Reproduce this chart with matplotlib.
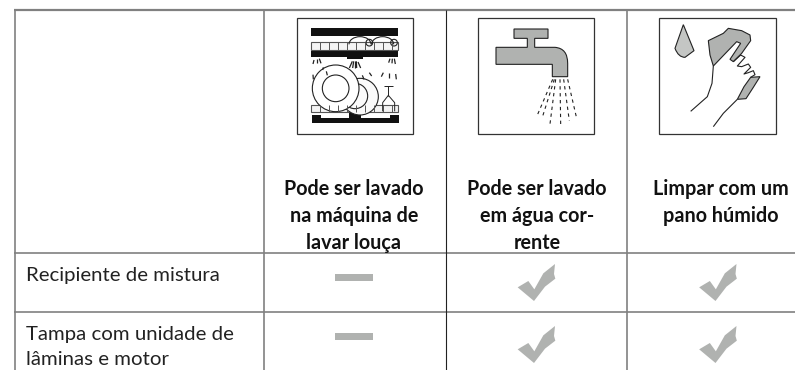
import numpy as np
import matplotlib.pyplot as plt
from matplotlib.patches import Polygon, Rectangle, Circle, Arc, PathPatch
from matplotlib.path import Path
from matplotlib.transforms import Affine2D

##### DATA #####
headers = ["Pode ser lavado\nna máquina de\nlavar louça",
           "Pode ser lavado\nem água cor-\nrente",
           "Limpar com um\npano húmido"]
rows = ["Recipiente de mistura", "Tampa com unidade de\nlâminas e motor"]
# 0 = dash, 1 = tick
marks = [[0, 1, 1],
         [0, 1, 1]]

col_x = [15, 264, 445.5, 627, 795]
row_y = [9.5, 253, 312, 370]
header_cx = [354, 537, 720.5]

GREY = "#808080"
FILL = "#b0b2b0"

plt.rcParams["font.family"] = ["Lato", "DejaVu Sans"]

fig = plt.figure(figsize=(7.95, 3.7), dpi=100, facecolor="white")
ax = fig.add_axes([0, 0, 1, 1])
ax.set_xlim(0, 795)
ax.set_ylim(370, 0)
ax.axis("off")

# grid
for y, lw in zip(row_y[:3], [1.6, 1.2, 1.2]):
    ax.plot([col_x[0] - 1, 795], [y, y], color=GREY, lw=lw, solid_capstyle="butt")
for i, x in enumerate(col_x[:4]):
    ax.plot([x, x], [row_y[0], 370], color="#222222" if i == 2 else GREY,
            lw=0.8 if i == 2 else 1.2, solid_capstyle="butt")

# text
for cx, txt in zip(header_cx, headers):
    ax.text(cx, 179, txt, ha="center", va="top", fontsize=14.2, fontweight="bold",
            color="#111111", linespacing=1.44)
for y, txt in zip([267, 326], rows):
    ax.text(26, y, txt, ha="left", va="top", fontsize=14.7, color="#222222", linespacing=1.57)


def crop(x0, y0=0):
    # icons are drawn in the coordinates of a 3x crop
    return Affine2D().scale(1 / 3).translate(x0, y0) + ax.transData


def frame(t, x1, x2):
    ax.add_patch(Rectangle((x1, 53), x2 - x1, 350, fc="white", ec="#333333", lw=0.9, transform=t))


def seg(t, pts, lw=0.7, c="#222222", **kw):
    pts = np.array(pts)
    ax.plot(pts[:, 0], pts[:, 1], color=c, lw=lw, transform=t, solid_capstyle="butt", **kw)


# dishwasher
t = crop(240)
frame(t, 170, 519)
for r in [(213, 84, 261, 24), (213, 153, 261, 19), (320, 146, 48, 32)]:
    ax.add_patch(Rectangle(r[:2], r[2], r[3], fc="#111111", ec="none", transform=t))
for y in [127, 314]:
    ax.add_patch(Rectangle((213, y), 262, 22, fc="#f4f4f4", ec="#555555", lw=0.8, transform=t))
    for x in np.arange(240, 475, 27):
        seg(t, [(x, y), (x, y + 22)], c="#555555")
ax.add_patch(Polygon([(215, 345), (243, 345), (243, 353), (327, 353), (327, 340), (363, 340),
                      (363, 353), (450, 353), (450, 345), (476, 345), (476, 370), (215, 370)],
                     fc="#111111", ec="none", transform=t))
# cups on the top rack
for cx, hx in [(360, 388), (428, 462)]:
    ax.add_patch(Arc((cx, 133), 66, 46, theta1=180, theta2=360, ec="#222222", lw=0.8, transform=t))
    ax.add_patch(Circle((hx, 128), 10, fc="none", ec="#222222", lw=0.8, transform=t))
# plates
ax.add_patch(Circle((360, 290), 55, fc="#fafafa", ec="#222222", lw=0.8, transform=t))
ax.add_patch(Circle((345, 288), 38, fc="#fafafa", ec="#222222", lw=0.8, transform=t))
ax.add_patch(Circle((287, 265), 70, fc="white", ec="#222222", lw=0.8, transform=t))
ax.add_patch(Circle((287, 265), 40, fc="white", ec="#222222", lw=0.8, transform=t))
# glass
seg(t, [(433, 257), (458, 257)])
seg(t, [(445, 257), (445, 288)])
seg(t, [(428, 334), (428, 308), (445, 286), (464, 308), (464, 334)])
# spray
for (x1, y1, x2, y2) in [(222, 180, 219, 192), (230, 178, 230, 190), (238, 176, 243, 190),
                         (446, 188, 450, 176), (456, 190, 457, 176), (466, 192, 463, 176),
                         (328, 204, 337, 184), (345, 204, 345, 184), (338, 204, 341, 184),
                         (362, 204, 354, 186), (350, 204, 349, 184),
                         (395, 228, 388, 218), (424, 230, 430, 218), (447, 234, 447, 218),
                         (469, 238, 467, 222), (372, 238, 367, 226), (220, 238, 219, 224),
                         (262, 226, 259, 214), (248, 210, 250, 202)]:
    seg(t, [(x1, y1), (x2, y2)], lw=0.9)

# tap
t = crop(440)
frame(t, 113, 463)
ax.add_patch(PathPatch(Path([(222, 87), (324, 87), (324, 115), (284, 115), (284, 142), (345, 142),
                             (383, 145), (383, 190), (383, 230), (337, 230), (337, 193), (168, 193),
                             (168, 142), (262, 142), (262, 115), (222, 115), (222, 87)],
                            [Path.MOVETO, Path.LINETO, Path.LINETO, Path.LINETO, Path.LINETO, Path.LINETO,
                             Path.CURVE3, Path.CURVE3, Path.LINETO, Path.LINETO, Path.LINETO, Path.LINETO,
                             Path.LINETO, Path.LINETO, Path.LINETO, Path.LINETO, Path.CLOSEPOLY]),
                       fc=FILL, ec="#222222", lw=0.8, transform=t))
for (x1, y1, x2, y2) in [(338, 238, 290, 350), (347, 238, 330, 372), (360, 238, 362, 372),
                         (371, 238, 388, 362), (383, 238, 410, 355), (343, 238, 306, 355)]:
    seg(t, [(x1, y1), (x2, y2)], lw=0.8, ls=(0, (3, 3.2)))

# hand and cloth
t = crop(620)
frame(t, 118, 468)
ax.add_patch(PathPatch(Path([(190, 74), (165, 145), (175, 172), (195, 172), (222, 152), (190, 74)],
                            [Path.MOVETO, Path.LINETO, Path.CURVE3, Path.CURVE3, Path.LINETO, Path.CLOSEPOLY]),
                       fc="#c4c6c4", ec="#222222", lw=0.8, transform=t))
ax.add_patch(Polygon([(265, 122), (310, 100), (325, 85), (365, 92), (390, 105), (392, 122), (365, 160),
                      (340, 185), (330, 178), (362, 130), (350, 125), (280, 198), (270, 165)],
                     fc=FILL, ec="#222222", lw=0.8, transform=t))
ax.add_patch(Polygon([(392, 232), (420, 230), (400, 262), (378, 296), (352, 298), (372, 260)],
                     fc=FILL, ec="#222222", lw=0.8, transform=t))
seg(t, [(280, 198), (276, 250), (262, 290), (212, 334)], lw=0.8)
seg(t, [(352, 298), (310, 340), (280, 380)], lw=0.8)
seg(t, [(340, 185), (362, 165), (375, 172), (352, 198), (365, 200), (385, 192), (392, 202), (372, 222),
        (385, 218), (400, 212), (405, 224), (392, 232)], lw=0.8)

# marks
tick = [(233, 112), (265, 93), (283, 118), (310, 70), (345, 42), (342, 72), (346, 86), (315, 110), (282, 153)]
for r, row in enumerate(marks):
    for c, m in enumerate(row):
        if m == 0:
            ax.add_patch(Rectangle((335, row_y[r + 1] + 20.5), 38, 7.5, fc=FILL, ec="none"))
        else:
            tt = crop(440 + (c - 1) * 181.5, 250 + r * 62)
            ax.add_patch(Polygon(tick, fc=FILL, ec="none", transform=tt))

fig.savefig("out.png", dpi=100)
